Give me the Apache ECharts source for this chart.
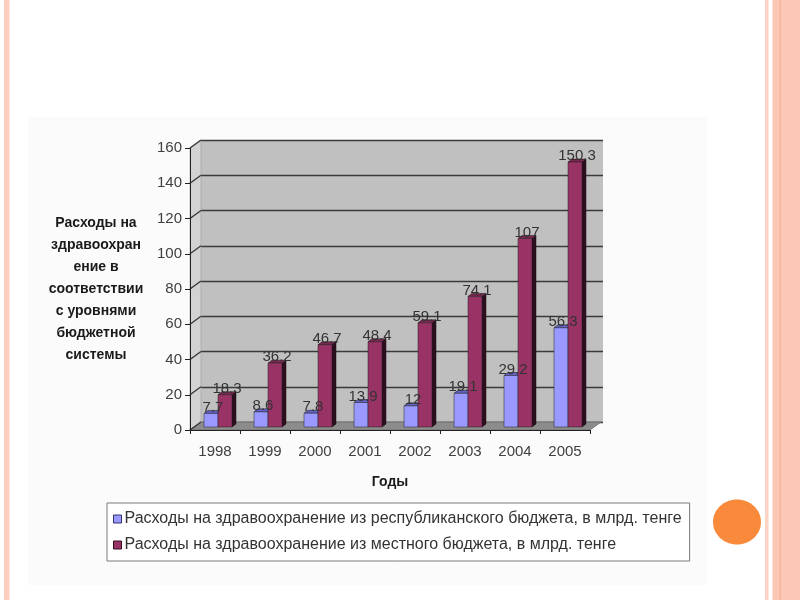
<!DOCTYPE html>
<html>
<head>
<meta charset="utf-8">
<script src="https://cdn.jsdelivr.net/npm/echarts@6/dist/echarts.min.js"></script>
<style>html,body{margin:0;padding:0;background:#fff}#c{width:800px;height:600px}</style>
</head>
<body>
<div id="c"></div>
<script>
// ---- data ----
const years = ['1998', '1999', '2000', '2001', '2002', '2003', '2004', '2005'];
const republicBudget = [7.7, 8.6, 7.8, 13.9, 12, 19.1, 29.2, 56.3];
const localBudget = [18.3, 36.2, 46.7, 48.4, 59.1, 74.1, 107, 150.3];
const yMin = 0, yMax = 160, yStep = 20;
const seriesNames = [
  'Расходы на здравоохранение из республиканского бюджета, в млрд. тенге',
  'Расходы на здравоохранение из местного бюджета, в млрд. тенге'
];
const yTitle = 'Расходы на\nздравоохран\nение в\nсоответствии\nс уровнями\nбюджетной\nсистемы';
const xTitle = 'Годы';

// ---- styling ----
const FONT = '"Liberation Sans", Arial, sans-serif';
const WALL_DX = 11, WALL_DY = -8;   // 3D depth of walls
const BAR_DX = 4, BAR_DY = -3, BAR_SET = 3;

const tickValues = [];
for (let v = yMin; v <= yMax; v += yStep) tickValues.push(v);

function wallsRender(params, api) {
  const cs = params.coordSys;
  const x0 = cs.x, x1 = cs.x + cs.width, yb = cs.y + cs.height, yt = cs.y;
  const ch = [];
  ch.push({type: 'polygon', shape: {points: [[x0, yt], [x0 + WALL_DX, yt + WALL_DY], [x0 + WALL_DX, yb + WALL_DY], [x0, yb]]},
    style: {fill: '#d2d2d2', stroke: '#9a9a9a', lineWidth: 0.6}});
  ch.push({type: 'polygon', shape: {points: [[x0, yb], [x1, yb], [x1 + WALL_DX, yb + WALL_DY], [x0 + WALL_DX, yb + WALL_DY]]},
    style: {fill: '#8c8c8c', stroke: '#6a6a6a', lineWidth: 0.8}});
  tickValues.forEach(function (v) {
    const p = api.coord([0, v]);
    ch.push({type: 'line', shape: {x1: x0, y1: p[1], x2: x0 + WALL_DX, y2: p[1] + WALL_DY},
      style: {stroke: '#3a3a3a', lineWidth: 1.4}});
  });
  return {type: 'group', children: ch};
}

function barRender(offRatio, widthRatio, face, top, side) {
  return function (params, api) {
    const i = api.value(0), v = api.value(1);
    const bw = api.size([1, 0])[0];
    const b = api.coord([i, 0]);
    const p = api.coord([i, v]);
    const x0 = b[0] + bw * offRatio, w = bw * widthRatio, x1 = x0 + w;
    const ybot = b[1] - BAR_SET, ytop = p[1] - BAR_SET;
    return {type: 'group', children: [
      {type: 'polygon', shape: {points: [[x1, ytop], [x1 + BAR_DX, ytop + BAR_DY], [x1 + BAR_DX, ybot + BAR_DY], [x1, ybot]]},
        style: {fill: side, stroke: '#111', lineWidth: 0.5}},
      {type: 'polygon', shape: {points: [[x0, ytop], [x0 + BAR_DX, ytop + BAR_DY], [x1 + BAR_DX, ytop + BAR_DY], [x1, ytop]]},
        style: {fill: top, stroke: '#111', lineWidth: 0.5}},
      {type: 'rect', shape: {x: x0, y: ytop, width: w, height: ybot - ytop},
        style: {fill: face, stroke: '#222', lineWidth: 0.5}}
    ]};
  };
}

const BLUE_OFF = -0.22, RED_OFF = 0.06, BW = 0.28;

function labelRender(params, api) {
  const i = api.value(0);
  const bw = api.size([1, 0])[0];
  const b = api.coord([i, 0]);
  const ch = [];
  [[api.value(1), BLUE_OFF], [api.value(2), RED_OFF]].forEach(function (d) {
    const p = api.coord([i, d[0]]);
    ch.push({type: 'text', style: {
      text: String(d[0]), x: b[0] + bw * (d[1] + BW / 2) + 2, y: p[1] - BAR_SET - 6,
      align: 'center', verticalAlign: 'middle', fill: '#333333', font: '15px ' + FONT}});
  });
  return {type: 'group', children: ch};
}

const chart = echarts.init(document.getElementById('c'), null, {renderer: 'canvas'});
chart.setOption({
  backgroundColor: '#ffffff',
  animation: false,
  graphic: [
    {type: 'rect', shape: {x: 28, y: 117, width: 679, height: 468}, style: {fill: '#fbfbfb'}, z: -10, silent: true},
    {type: 'rect', shape: {x: 4, y: 0, width: 5.5, height: 600}, style: {fill: '#fdcfbf'}, z: -10, silent: true},
    {type: 'rect', shape: {x: 765, y: 0, width: 3.5, height: 600}, style: {fill: '#fdd3c5'}, z: -10, silent: true},
    {type: 'rect', shape: {x: 772.5, y: 0, width: 28, height: 600}, style: {fill: '#fcc8b5'}, z: -10, silent: true},
    {type: 'rect', shape: {x: 779.5, y: 0, width: 1.5, height: 600}, style: {fill: '#f7b69d'}, z: -10, silent: true},
    {type: 'ellipse', shape: {cx: 737, cy: 522, rx: 24, ry: 22.5}, style: {fill: '#f98a3c'}, z: -10, silent: true}
  ],
  grid: [
    {left: 190, right: 210, top: 148, bottom: 170},
    {left: 190 + WALL_DX, right: 210 - WALL_DX - 2, top: 148 + WALL_DY, bottom: 170 - WALL_DY,
      show: true, backgroundColor: '#c0c0c0', borderWidth: 0, z: 0}
  ],
  xAxis: [
    {type: 'category', gridIndex: 0, data: years,
      name: xTitle, nameLocation: 'middle', nameGap: 45,
      nameTextStyle: {fontFamily: FONT, fontWeight: 'bold', fontSize: 14, color: '#1a1a1a'},
      axisLine: {lineStyle: {color: '#222', width: 1}},
      axisTick: {show: true, length: 4, lineStyle: {color: '#222'}},
      axisLabel: {fontFamily: FONT, fontSize: 15, color: '#404040', margin: 14},
      z: 5},
    {type: 'category', gridIndex: 1, data: years, show: false}
  ],
  yAxis: [
    {type: 'value', gridIndex: 0, min: yMin, max: yMax, interval: yStep,
      name: yTitle, nameLocation: 'middle', nameGap: 94, nameRotate: 0,
      nameTextStyle: {fontFamily: FONT, fontWeight: 'bold', fontSize: 14, color: '#1a1a1a',
        align: 'center', verticalAlign: 'middle', lineHeight: 22},
      axisLine: {show: true, lineStyle: {color: '#222', width: 1}},
      axisTick: {show: true, length: 5, lineStyle: {color: '#222'}},
      axisLabel: {fontFamily: FONT, fontSize: 15, color: '#404040', margin: 8},
      splitLine: {show: false}, z: 5},
    {type: 'value', gridIndex: 1, min: yMin, max: yMax, interval: yStep,
      axisLine: {show: false}, axisTick: {show: false}, axisLabel: {show: false},
      splitLine: {show: true, lineStyle: {color: '#3a3a3a', width: 1.4}}}
  ],
  legend: {
    orient: 'vertical', left: 107, top: 503,
    padding: [8, 8, 8, 6], itemGap: 10, itemWidth: 8, itemHeight: 8,
    borderColor: '#7a7a7a', borderWidth: 1, backgroundColor: '#ffffff',
    textStyle: {fontFamily: FONT, fontSize: 16, color: '#333', padding: [0, 0, 0, -2]},
    data: [
      {name: seriesNames[0], icon: 'rect', itemStyle: {color: '#9999ff', borderColor: '#333366', borderWidth: 1}},
      {name: seriesNames[1], icon: 'rect', itemStyle: {color: '#993366', borderColor: '#331122', borderWidth: 1}}
    ]
  },
  series: [
    {type: 'custom', name: 'walls', xAxisIndex: 0, yAxisIndex: 0, z: 1, silent: true,
      renderItem: wallsRender, data: [[0, 0]]},
    {type: 'custom', name: seriesNames[0], xAxisIndex: 0, yAxisIndex: 0, z: 3,
      itemStyle: {color: '#9999ff'},
      renderItem: barRender(BLUE_OFF, BW, '#9999ff', '#6262c4', '#4a4a90'),
      encode: {x: 0, y: 1},
      data: years.map(function (y, i) { return [i, republicBudget[i]]; })},
    {type: 'custom', name: seriesNames[1], xAxisIndex: 0, yAxisIndex: 0, z: 4,
      itemStyle: {color: '#993366'},
      renderItem: barRender(RED_OFF, BW, '#993366', '#7a2850', '#2e0f1f'),
      encode: {x: 0, y: 1},
      data: years.map(function (y, i) { return [i, localBudget[i]]; })},
    {type: 'custom', name: 'labels', xAxisIndex: 0, yAxisIndex: 0, z: 6, silent: true,
      renderItem: labelRender, encode: {x: 0, y: [1, 2]},
      data: years.map(function (y, i) { return [i, republicBudget[i], localBudget[i]]; })}
  ]
});
</script>
</body>
</html>
